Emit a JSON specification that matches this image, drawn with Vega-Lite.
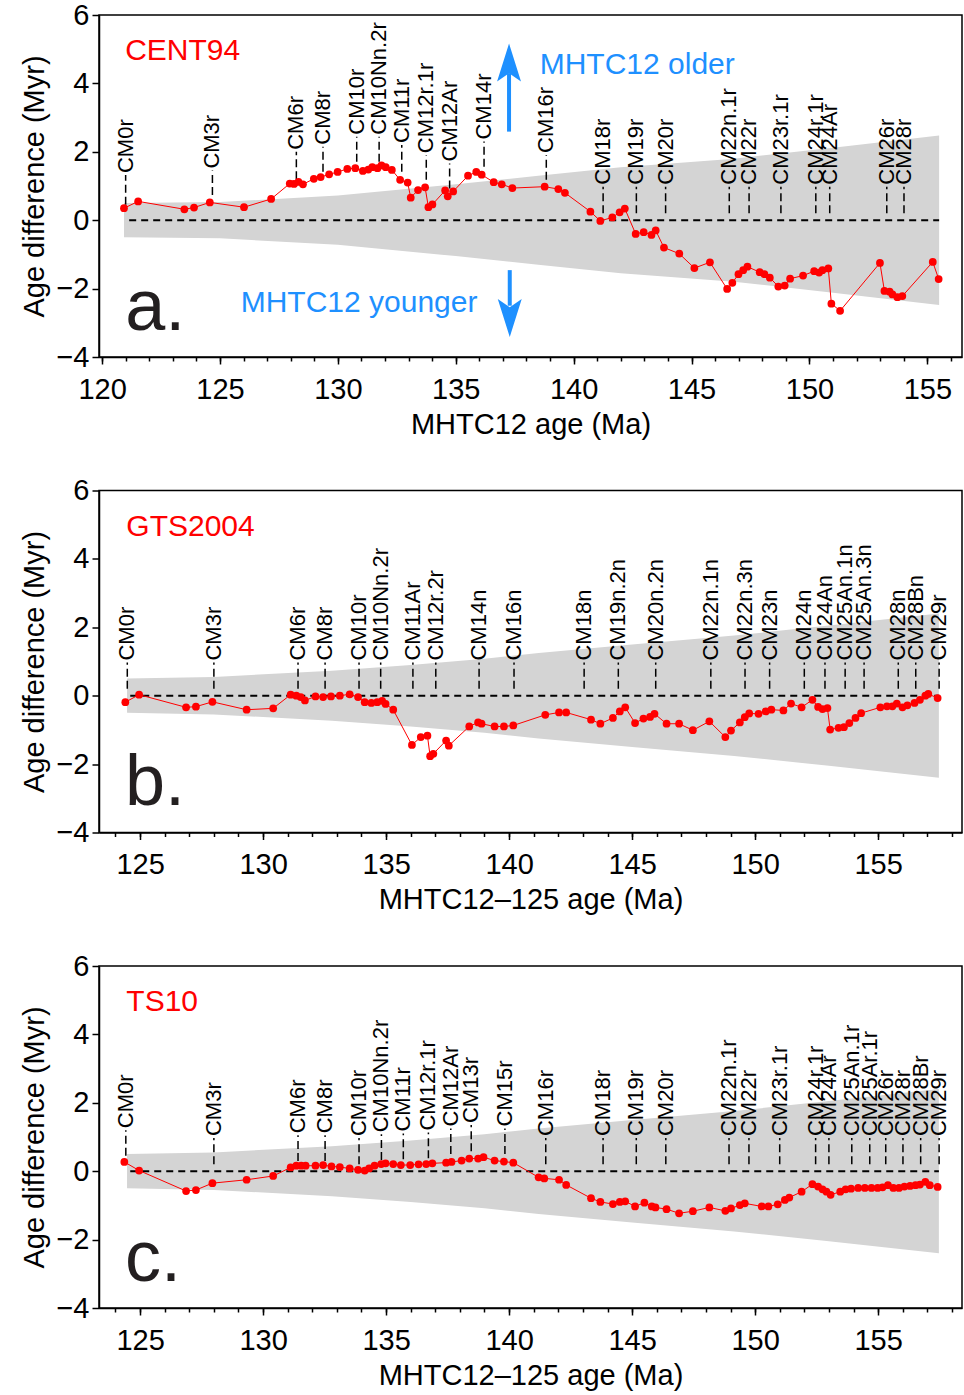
{
  "$schema": "https://vega.github.io/schema/vega-lite/v6.json",
  "padding": {"left": 20, "top": 0, "right": 0, "bottom": 0},
  "spacing": 35.5,
  "config": {
    "font": "Liberation Sans",
    "view": {"stroke": "#000", "strokeWidth": 1.5},
    "axis": {"labelFont": "Liberation Sans", "titleFont": "Liberation Sans", "labelFontSize": 29, "titleFontSize": 29, "titleFontWeight": "normal", "labelColor": "#000", "titleColor": "#000", "domainColor": "#000", "tickColor": "#000", "domainWidth": 1.5, "tickWidth": 1.5, "grid": false, "labelOverlap": false, "labelFlush": false}
  },
  "datasets": {
    "bandA": [{"t":120.93,"hi":0.5,"lo":-0.5},{"t":125,"hi":0.53,"lo":-0.53},{"t":130,"hi":0.72,"lo":-0.72},{"t":135,"hi":1.05,"lo":-1.05},{"t":138.5,"hi":1.3,"lo":-1.3},{"t":142,"hi":1.55,"lo":-1.55},{"t":146.8,"hi":1.8,"lo":-1.8},{"t":151,"hi":2.12,"lo":-2.12},{"t":155.5,"hi":2.48,"lo":-2.48}],
    "bandB": [{"t":124.47,"hi":0.5,"lo":-0.5},{"t":128,"hi":0.55,"lo":-0.55},{"t":132.8,"hi":0.73,"lo":-0.73},{"t":136,"hi":0.9,"lo":-0.9},{"t":139,"hi":1.08,"lo":-1.08},{"t":141.2,"hi":1.25,"lo":-1.25},{"t":145,"hi":1.5,"lo":-1.5},{"t":149.15,"hi":1.76,"lo":-1.76},{"t":153,"hi":2.05,"lo":-2.05},{"t":157.47,"hi":2.4,"lo":-2.4}],
    "a": [{"t":120.93,"v":0.35},{"t":121.53,"v":0.55},{"t":123.49,"v":0.32},{"t":123.9,"v":0.37},{"t":124.57,"v":0.52},{"t":126.02,"v":0.38},{"t":127.17,"v":0.62},{"t":127.96,"v":1.07},{"t":128.14,"v":1.06},{"t":128.33,"v":1.12},{"t":128.52,"v":1.05},{"t":128.98,"v":1.21},{"t":129.27,"v":1.26},{"t":129.63,"v":1.34},{"t":129.99,"v":1.41},{"t":130.4,"v":1.5},{"t":130.74,"v":1.52},{"t":131.06,"v":1.44},{"t":131.29,"v":1.48},{"t":131.46,"v":1.55},{"t":131.68,"v":1.52},{"t":131.85,"v":1.6},{"t":132.03,"v":1.55},{"t":132.29,"v":1.47},{"t":132.64,"v":1.18},{"t":132.96,"v":1.1},{"t":133.09,"v":0.66},{"t":133.4,"v":0.88},{"t":133.7,"v":0.96},{"t":133.84,"v":0.38},{"t":134.01,"v":0.46},{"t":134.55,"v":0.87},{"t":134.66,"v":0.7},{"t":134.89,"v":0.84},{"t":135.52,"v":1.3},{"t":135.87,"v":1.41},{"t":136.1,"v":1.33},{"t":136.61,"v":1.11},{"t":136.95,"v":1.05},{"t":137.4,"v":0.94},{"t":138.77,"v":0.98},{"t":139.35,"v":0.91},{"t":139.63,"v":0.8},{"t":140.71,"v":0.25},{"t":141.13,"v":-0.02},{"t":141.64,"v":0.08},{"t":141.95,"v":0.23},{"t":142.17,"v":0.34},{"t":142.63,"v":-0.4},{"t":142.97,"v":-0.35},{"t":143.3,"v":-0.43},{"t":143.48,"v":-0.3},{"t":143.83,"v":-0.8},{"t":144.48,"v":-0.98},{"t":145.12,"v":-1.4},{"t":145.78,"v":-1.23},{"t":146.51,"v":-2.01},{"t":146.73,"v":-1.83},{"t":146.99,"v":-1.58},{"t":147.19,"v":-1.46},{"t":147.37,"v":-1.36},{"t":147.89,"v":-1.52},{"t":148.09,"v":-1.58},{"t":148.32,"v":-1.68},{"t":148.68,"v":-1.94},{"t":148.95,"v":-1.91},{"t":149.18,"v":-1.71},{"t":149.73,"v":-1.62},{"t":150.2,"v":-1.49},{"t":150.41,"v":-1.53},{"t":150.55,"v":-1.46},{"t":150.8,"v":-1.41},{"t":150.93,"v":-2.44},{"t":151.3,"v":-2.65},{"t":152.99,"v":-1.25},{"t":153.18,"v":-2.07},{"t":153.4,"v":-2.09},{"t":153.52,"v":-2.17},{"t":153.73,"v":-2.25},{"t":153.94,"v":-2.22},{"t":155.23,"v":-1.22},{"t":155.48,"v":-1.72}],
    "b": [{"t":124.4,"v":-0.19},{"t":124.96,"v":0.03},{"t":126.87,"v":-0.34},{"t":127.27,"v":-0.32},{"t":127.94,"v":-0.18},{"t":129.33,"v":-0.41},{"t":130.41,"v":-0.37},{"t":131.12,"v":0.03},{"t":131.35,"v":0.0},{"t":131.53,"v":-0.04},{"t":131.7,"v":-0.14},{"t":132.13,"v":-0.02},{"t":132.44,"v":-0.04},{"t":132.76,"v":-0.02},{"t":133.12,"v":0.0},{"t":133.52,"v":0.04},{"t":133.86,"v":-0.04},{"t":134.13,"v":-0.19},{"t":134.4,"v":-0.21},{"t":134.64,"v":-0.19},{"t":134.84,"v":-0.15},{"t":134.98,"v":-0.24},{"t":135.29,"v":-0.41},{"t":136.05,"v":-1.44},{"t":136.41,"v":-1.21},{"t":136.68,"v":-1.17},{"t":136.79,"v":-1.77},{"t":136.92,"v":-1.7},{"t":137.44,"v":-1.31},{"t":137.55,"v":-1.46},{"t":138.38,"v":-0.9},{"t":138.74,"v":-0.78},{"t":138.88,"v":-0.82},{"t":139.41,"v":-0.9},{"t":139.79,"v":-0.9},{"t":140.17,"v":-0.87},{"t":141.47,"v":-0.56},{"t":142.03,"v":-0.49},{"t":142.32,"v":-0.49},{"t":143.33,"v":-0.7},{"t":143.71,"v":-0.82},{"t":144.22,"v":-0.65},{"t":144.5,"v":-0.46},{"t":144.72,"v":-0.34},{"t":145.12,"v":-0.8},{"t":145.46,"v":-0.67},{"t":145.73,"v":-0.62},{"t":145.91,"v":-0.53},{"t":146.4,"v":-0.82},{"t":146.91,"v":-0.82},{"t":147.47,"v":-1.01},{"t":148.14,"v":-0.75},{"t":148.79,"v":-1.21},{"t":149.02,"v":-1.02},{"t":149.38,"v":-0.78},{"t":149.58,"v":-0.63},{"t":149.76,"v":-0.52},{"t":150.14,"v":-0.53},{"t":150.43,"v":-0.46},{"t":150.66,"v":-0.41},{"t":151.15,"v":-0.43},{"t":151.46,"v":-0.23},{"t":151.89,"v":-0.34},{"t":152.33,"v":-0.12},{"t":152.56,"v":-0.33},{"t":152.74,"v":-0.39},{"t":152.94,"v":-0.36},{"t":153.05,"v":-0.99},{"t":153.39,"v":-0.94},{"t":153.61,"v":-0.92},{"t":153.83,"v":-0.8},{"t":154.08,"v":-0.65},{"t":154.31,"v":-0.51},{"t":155.09,"v":-0.34},{"t":155.36,"v":-0.31},{"t":155.58,"v":-0.31},{"t":155.76,"v":-0.23},{"t":155.99,"v":-0.34},{"t":156.19,"v":-0.28},{"t":156.48,"v":-0.21},{"t":156.7,"v":-0.12},{"t":156.92,"v":0.0},{"t":157.04,"v":0.05},{"t":157.42,"v":-0.07}],
    "c": [{"t":124.36,"v":0.27},{"t":124.96,"v":0.02},{"t":126.87,"v":-0.58},{"t":127.27,"v":-0.55},{"t":127.94,"v":-0.35},{"t":129.33,"v":-0.25},{"t":130.41,"v":-0.14},{"t":131.12,"v":0.11},{"t":131.35,"v":0.16},{"t":131.55,"v":0.16},{"t":131.73,"v":0.16},{"t":132.13,"v":0.16},{"t":132.44,"v":0.18},{"t":132.78,"v":0.14},{"t":133.12,"v":0.12},{"t":133.52,"v":0.08},{"t":133.86,"v":0.04},{"t":134.13,"v":0.02},{"t":134.31,"v":0.08},{"t":134.53,"v":0.16},{"t":134.8,"v":0.21},{"t":134.98,"v":0.23},{"t":135.29,"v":0.21},{"t":135.6,"v":0.18},{"t":135.98,"v":0.18},{"t":136.32,"v":0.2},{"t":136.63,"v":0.21},{"t":136.88,"v":0.23},{"t":137.44,"v":0.25},{"t":137.66,"v":0.27},{"t":138.07,"v":0.31},{"t":138.38,"v":0.37},{"t":138.74,"v":0.37},{"t":138.96,"v":0.41},{"t":139.41,"v":0.31},{"t":139.79,"v":0.28},{"t":140.17,"v":0.25},{"t":141.2,"v":-0.18},{"t":141.43,"v":-0.21},{"t":142.03,"v":-0.25},{"t":142.32,"v":-0.4},{"t":143.33,"v":-0.79},{"t":143.71,"v":-0.9},{"t":144.22,"v":-0.96},{"t":144.5,"v":-0.9},{"t":144.72,"v":-0.88},{"t":145.12,"v":-1.03},{"t":145.5,"v":-0.92},{"t":145.8,"v":-1.03},{"t":145.95,"v":-1.06},{"t":146.4,"v":-1.11},{"t":146.91,"v":-1.23},{"t":147.47,"v":-1.17},{"t":148.14,"v":-1.06},{"t":148.79,"v":-1.16},{"t":149.02,"v":-1.09},{"t":149.38,"v":-0.99},{"t":149.58,"v":-0.94},{"t":150.27,"v":-1.03},{"t":150.54,"v":-1.03},{"t":150.92,"v":-0.97},{"t":151.21,"v":-0.84},{"t":151.39,"v":-0.77},{"t":151.89,"v":-0.6},{"t":152.33,"v":-0.38},{"t":152.56,"v":-0.45},{"t":152.74,"v":-0.53},{"t":152.9,"v":-0.6},{"t":153.07,"v":-0.69},{"t":153.46,"v":-0.6},{"t":153.68,"v":-0.53},{"t":153.9,"v":-0.51},{"t":154.19,"v":-0.49},{"t":154.46,"v":-0.49},{"t":154.73,"v":-0.49},{"t":154.98,"v":-0.49},{"t":155.18,"v":-0.47},{"t":155.4,"v":-0.41},{"t":155.62,"v":-0.49},{"t":155.85,"v":-0.49},{"t":156.07,"v":-0.45},{"t":156.3,"v":-0.43},{"t":156.52,"v":-0.41},{"t":156.7,"v":-0.39},{"t":156.92,"v":-0.31},{"t":157.1,"v":-0.41},{"t":157.42,"v":-0.46}],
    "labA": [{"name":"CM0r","t":121.0,"lo":0.45,"hi":1.32},{"name":"CM3r","t":124.68,"lo":0.74,"hi":1.45},{"name":"CM6r","t":128.24,"lo":1.2,"hi":2.0},{"name":"CM8r","t":129.37,"lo":1.42,"hi":2.15},{"name":"CM10r","t":130.8,"lo":1.71,"hi":2.44},{"name":"CM10Nn.2r","t":131.75,"lo":1.71,"hi":2.44},{"name":"CM11r","t":132.71,"lo":1.42,"hi":2.2},{"name":"CM12r.1r","t":133.75,"lo":1.18,"hi":1.9},{"name":"CM12Ar","t":134.74,"lo":0.93,"hi":1.66},{"name":"CM14r","t":136.2,"lo":1.56,"hi":2.3},{"name":"CM16r","t":138.84,"lo":1.18,"hi":1.91},{"name":"CM18r","t":141.25,"lo":0.2,"hi":0.98},{"name":"CM19r","t":142.66,"lo":0.2,"hi":0.98},{"name":"CM20r","t":143.9,"lo":0.2,"hi":0.98},{"name":"CM22n.1r","t":146.6,"lo":0.2,"hi":0.98},{"name":"CM22r","t":147.44,"lo":0.2,"hi":0.98},{"name":"CM23r.1r","t":148.79,"lo":0.2,"hi":0.98},{"name":"CM24r.1r","t":150.27,"lo":0.2,"hi":0.98},{"name":"CM24Ar","t":150.86,"lo":0.2,"hi":0.98},{"name":"CM26r","t":153.28,"lo":0.2,"hi":0.98},{"name":"CM28r","t":154.01,"lo":0.2,"hi":0.98}],
    "labB": [{"name":"CM0r","t":124.48,"lo":0.2,"hi":0.97},{"name":"CM3r","t":128.0,"lo":0.2,"hi":0.97},{"name":"CM6r","t":131.42,"lo":0.2,"hi":0.97},{"name":"CM8r","t":132.52,"lo":0.2,"hi":0.97},{"name":"CM10r","t":133.9,"lo":0.2,"hi":0.97},{"name":"CM10Nn.2r","t":134.78,"lo":0.2,"hi":0.97},{"name":"CM11Ar","t":136.09,"lo":0.2,"hi":0.97},{"name":"CM12r.2r","t":137.02,"lo":0.2,"hi":0.97},{"name":"CM14n","t":138.78,"lo":0.2,"hi":0.97},{"name":"CM16n","t":140.2,"lo":0.2,"hi":0.97},{"name":"CM18n","t":143.05,"lo":0.2,"hi":0.97},{"name":"CM19n.2n","t":144.44,"lo":0.2,"hi":0.97},{"name":"CM20n.2n","t":145.96,"lo":0.2,"hi":0.97},{"name":"CM22n.1n","t":148.2,"lo":0.2,"hi":0.97},{"name":"CM22n.3n","t":149.59,"lo":0.2,"hi":0.97},{"name":"CM23n","t":150.59,"lo":0.2,"hi":0.97},{"name":"CM24n","t":152.0,"lo":0.2,"hi":0.97},{"name":"CM24An","t":152.84,"lo":0.2,"hi":0.97},{"name":"CM25An.1n","t":153.66,"lo":0.2,"hi":0.97},{"name":"CM25An.3n","t":154.43,"lo":0.2,"hi":0.97},{"name":"CM28n","t":155.82,"lo":0.2,"hi":0.97},{"name":"CM28Bn","t":156.53,"lo":0.2,"hi":0.97},{"name":"CM29r","t":157.48,"lo":0.2,"hi":0.97}],
    "labC": [{"name":"CM0r","t":124.42,"lo":0.45,"hi":1.2},{"name":"CM3r","t":128.0,"lo":0.2,"hi":0.97},{"name":"CM6r","t":131.42,"lo":0.3,"hi":1.05},{"name":"CM8r","t":132.52,"lo":0.3,"hi":1.05},{"name":"CM10r","t":133.9,"lo":0.2,"hi":0.97},{"name":"CM10Nn.2r","t":134.81,"lo":0.33,"hi":1.08},{"name":"CM11r","t":135.7,"lo":0.35,"hi":1.1},{"name":"CM12r.1r","t":136.72,"lo":0.38,"hi":1.13},{"name":"CM12Ar","t":137.63,"lo":0.5,"hi":1.25},{"name":"CM13r","t":138.46,"lo":0.58,"hi":1.35},{"name":"CM15r","t":139.83,"lo":0.5,"hi":1.25},{"name":"CM16r","t":141.49,"lo":0.2,"hi":0.97},{"name":"CM18r","t":143.82,"lo":0.2,"hi":0.97},{"name":"CM19r","t":145.17,"lo":0.2,"hi":0.97},{"name":"CM20r","t":146.37,"lo":0.2,"hi":0.97},{"name":"CM22n.1r","t":148.94,"lo":0.2,"hi":0.97},{"name":"CM22r","t":149.75,"lo":0.2,"hi":0.97},{"name":"CM23r.1r","t":151.0,"lo":0.2,"hi":0.97},{"name":"CM24r.1r","t":152.46,"lo":0.2,"hi":0.97},{"name":"CM24Ar","t":153.0,"lo":0.2,"hi":0.97},{"name":"CM25An.1r","t":153.93,"lo":0.2,"hi":0.97},{"name":"CM25Ar.1r","t":154.66,"lo":0.2,"hi":0.97},{"name":"CM26r","t":155.31,"lo":0.2,"hi":0.97},{"name":"CM28r","t":156.01,"lo":0.2,"hi":0.97},{"name":"CM28Br","t":156.73,"lo":0.2,"hi":0.97},{"name":"CM29r","t":157.48,"lo":0.2,"hi":0.97}]
  },
  "vconcat": [
    {
      "width": 863, "height": 342,
      "resolve": {"axis": {"x": "independent"}},
      "layer": [
        {"data": {"name": "bandA"}, "mark": {"type": "area", "color": "#d4d4d4"},
         "encoding": {
           "x": {"field": "t", "type": "quantitative", "scale": {"domain": [119.87, 156.47], "nice": false, "zero": false},
                 "axis": {"title": "MHTC12 age (Ma)", "orient": "bottom", "values": [120,125,130,135,140,145,150,155], "labelOverlap": false, "tickSize": 7, "labelPadding": 11, "titlePadding": 6}},
           "y": {"field": "hi", "type": "quantitative", "scale": {"domain": [-4, 6], "nice": false},
                 "axis": {"title": "Age difference (Myr)", "values": [-4,-3,-2,-1,0,1,2,3,4,5,6], "labelExpr": "datum.value % 2 === 0 ? datum.label : ''", "labelOverlap": false, "tickSize": {"condition": {"test": "datum.value % 2 === 0", "value": 7}, "value": 4}, "labelPadding": 3, "titlePadding": 6}},
           "y2": {"field": "lo"}
         }},
        {"data": {"values": [{"t1": 121.15, "t2": 155.5, "z": 0}]}, "mark": {"type": "rule", "strokeDash": [7, 5], "strokeWidth": 2, "color": "#000"},
         "encoding": {"x": {"field": "t1", "type": "quantitative", "axis": {"orient": "bottom", "values": [120,121,122,123,124,125,126,127,128,129,130,131,132,133,134,135,136,137,138,139,140,141,142,143,144,145,146,147,148,149,150,151,152,153,154,155,156], "labels": false, "title": null, "domain": false, "tickSize": 4}}, "x2": {"field": "t2"}, "y": {"field": "z", "type": "quantitative"}}},
        {"data": {"name": "labA"}, "mark": {"type": "rule", "strokeDash": [8, 4], "strokeWidth": 1.5, "color": "#000"},
         "encoding": {"x": {"field": "t", "type": "quantitative", "axis": null}, "y": {"field": "lo", "type": "quantitative"}, "y2": {"field": "hi"}}},
        {"data": {"name": "labA"}, "mark": {"type": "text", "angle": 270, "align": "left", "baseline": "middle", "fontSize": 22, "font": "Liberation Sans", "color": "#000", "dx": 2},
         "encoding": {"x": {"field": "t", "type": "quantitative", "axis": null}, "y": {"field": "hi", "type": "quantitative"}, "text": {"field": "name"}}},
        {"data": {"name": "a"}, "mark": {"type": "line", "color": "#ff0000", "strokeWidth": 1, "point": {"filled": true, "size": 60, "color": "#ff0000", "opacity": 1}},
         "encoding": {"x": {"field": "t", "type": "quantitative", "axis": null}, "y": {"field": "v", "type": "quantitative"}}},
        {"data": {"values": [{"t": 120.98, "v": 4.68, "txt": "CENT94"}]}, "mark": {"type": "text", "align": "left", "baseline": "alphabetic", "fontSize": 30, "color": "#ff0000"},
         "encoding": {"x": {"field": "t", "type": "quantitative", "axis": null}, "y": {"field": "v", "type": "quantitative"}, "text": {"field": "txt"}}},
        {"data": {"values": [{"t": 138.56, "v": 4.27, "txt": "MHTC12 older"}, {"t": 125.88, "v": -2.68, "txt": "MHTC12 younger"}]}, "mark": {"type": "text", "align": "left", "baseline": "alphabetic", "fontSize": 30, "color": "#1e90ff"},
         "encoding": {"x": {"field": "t", "type": "quantitative", "axis": null}, "y": {"field": "v", "type": "quantitative"}, "text": {"field": "txt"}}},
        {"data": {"values": [{"t": 137.26, "v1": 2.59, "v2": 4.3}, {"t": 137.29, "v1": -1.46, "v2": -2.5}]}, "mark": {"type": "rule", "strokeWidth": 4, "color": "#1e90ff"},
         "encoding": {"x": {"field": "t", "type": "quantitative", "axis": null}, "y": {"field": "v1", "type": "quantitative"}, "y2": {"field": "v2"}}},
        {"data": {"values": [{"t": 137.26, "v": 4.61}]}, "mark": {"type": "point", "filled": true, "opacity": 1, "color": "#1e90ff", "size": 1444, "shape": "M0,-1L0.63,1L0,0.57L-0.63,1Z"},
         "encoding": {"x": {"field": "t", "type": "quantitative", "axis": null}, "y": {"field": "v", "type": "quantitative"}}},
        {"data": {"values": [{"t": 137.29, "v": -2.86}]}, "mark": {"type": "point", "filled": true, "opacity": 1, "color": "#1e90ff", "size": 1444, "shape": "M0,1L0.63,-1L0,-0.57L-0.63,-1Z"},
         "encoding": {"x": {"field": "t", "type": "quantitative", "axis": null}, "y": {"field": "v", "type": "quantitative"}}},
        {"data": {"values": [{"t": 120.98, "v": -3.21, "txt": "a."}]}, "mark": {"type": "text", "align": "left", "baseline": "alphabetic", "fontSize": 72, "color": "#231f20"},
         "encoding": {"x": {"field": "t", "type": "quantitative", "axis": null}, "y": {"field": "v", "type": "quantitative"}, "text": {"field": "txt"}}}
      ]
    },
    {
      "width": 863, "height": 342,
      "resolve": {"axis": {"x": "independent"}},
      "layer": [
        {"data": {"name": "bandB"}, "mark": {"type": "area", "color": "#d4d4d4"},
         "encoding": {
           "x": {"field": "t", "type": "quantitative", "scale": {"domain": [123.33, 158.41], "nice": false, "zero": false},
                 "axis": {"title": "MHTC12–125 age (Ma)", "orient": "bottom", "values": [125,130,135,140,145,150,155], "labelOverlap": false, "tickSize": 7, "labelPadding": 11, "titlePadding": 6}},
           "y": {"field": "hi", "type": "quantitative", "scale": {"domain": [-4, 6], "nice": false},
                 "axis": {"title": "Age difference (Myr)", "values": [-4,-3,-2,-1,0,1,2,3,4,5,6], "labelExpr": "datum.value % 2 === 0 ? datum.label : ''", "labelOverlap": false, "tickSize": {"condition": {"test": "datum.value % 2 === 0", "value": 7}, "value": 4}, "labelPadding": 3, "titlePadding": 6}},
           "y2": {"field": "lo"}
         }},
        {"data": {"values": [{"t1": 124.6, "t2": 157.47, "z": 0}]}, "mark": {"type": "rule", "strokeDash": [7, 5], "strokeWidth": 2, "color": "#000"},
         "encoding": {"x": {"field": "t1", "type": "quantitative", "axis": {"orient": "bottom", "values": [124,125,126,127,128,129,130,131,132,133,134,135,136,137,138,139,140,141,142,143,144,145,146,147,148,149,150,151,152,153,154,155,156,157,158], "labels": false, "title": null, "domain": false, "tickSize": 4}}, "x2": {"field": "t2"}, "y": {"field": "z", "type": "quantitative"}}},
        {"data": {"name": "labB"}, "mark": {"type": "rule", "strokeDash": [8, 4], "strokeWidth": 1.5, "color": "#000"},
         "encoding": {"x": {"field": "t", "type": "quantitative", "axis": null}, "y": {"field": "lo", "type": "quantitative"}, "y2": {"field": "hi"}}},
        {"data": {"name": "labB"}, "mark": {"type": "text", "angle": 270, "align": "left", "baseline": "middle", "fontSize": 22, "font": "Liberation Sans", "color": "#000", "dx": 2},
         "encoding": {"x": {"field": "t", "type": "quantitative", "axis": null}, "y": {"field": "hi", "type": "quantitative"}, "text": {"field": "name"}}},
        {"data": {"name": "b"}, "mark": {"type": "line", "color": "#ff0000", "strokeWidth": 1, "point": {"filled": true, "size": 60, "color": "#ff0000", "opacity": 1}},
         "encoding": {"x": {"field": "t", "type": "quantitative", "axis": null}, "y": {"field": "v", "type": "quantitative"}}},
        {"data": {"values": [{"t": 124.44, "v": 4.68, "txt": "GTS2004"}]}, "mark": {"type": "text", "align": "left", "baseline": "alphabetic", "fontSize": 30, "color": "#ff0000"},
         "encoding": {"x": {"field": "t", "type": "quantitative", "axis": null}, "y": {"field": "v", "type": "quantitative"}, "text": {"field": "txt"}}},
        {"data": {"values": [{"t": 124.39, "v": -3.21, "txt": "b."}]}, "mark": {"type": "text", "align": "left", "baseline": "alphabetic", "fontSize": 72, "color": "#231f20"},
         "encoding": {"x": {"field": "t", "type": "quantitative", "axis": null}, "y": {"field": "v", "type": "quantitative"}, "text": {"field": "txt"}}}
      ]
    },
    {
      "width": 863, "height": 342,
      "resolve": {"axis": {"x": "independent"}},
      "layer": [
        {"data": {"name": "bandB"}, "mark": {"type": "area", "color": "#d4d4d4"},
         "encoding": {
           "x": {"field": "t", "type": "quantitative", "scale": {"domain": [123.33, 158.41], "nice": false, "zero": false},
                 "axis": {"title": "MHTC12–125 age (Ma)", "orient": "bottom", "values": [125,130,135,140,145,150,155], "labelOverlap": false, "tickSize": 7, "labelPadding": 11, "titlePadding": 6}},
           "y": {"field": "hi", "type": "quantitative", "scale": {"domain": [-4, 6], "nice": false},
                 "axis": {"title": "Age difference (Myr)", "values": [-4,-3,-2,-1,0,1,2,3,4,5,6], "labelExpr": "datum.value % 2 === 0 ? datum.label : ''", "labelOverlap": false, "tickSize": {"condition": {"test": "datum.value % 2 === 0", "value": 7}, "value": 4}, "labelPadding": 3, "titlePadding": 6}},
           "y2": {"field": "lo"}
         }},
        {"data": {"values": [{"t1": 124.6, "t2": 157.47, "z": 0}]}, "mark": {"type": "rule", "strokeDash": [7, 5], "strokeWidth": 2, "color": "#000"},
         "encoding": {"x": {"field": "t1", "type": "quantitative", "axis": {"orient": "bottom", "values": [124,125,126,127,128,129,130,131,132,133,134,135,136,137,138,139,140,141,142,143,144,145,146,147,148,149,150,151,152,153,154,155,156,157,158], "labels": false, "title": null, "domain": false, "tickSize": 4}}, "x2": {"field": "t2"}, "y": {"field": "z", "type": "quantitative"}}},
        {"data": {"name": "labC"}, "mark": {"type": "rule", "strokeDash": [8, 4], "strokeWidth": 1.5, "color": "#000"},
         "encoding": {"x": {"field": "t", "type": "quantitative", "axis": null}, "y": {"field": "lo", "type": "quantitative"}, "y2": {"field": "hi"}}},
        {"data": {"name": "labC"}, "mark": {"type": "text", "angle": 270, "align": "left", "baseline": "middle", "fontSize": 22, "font": "Liberation Sans", "color": "#000", "dx": 2},
         "encoding": {"x": {"field": "t", "type": "quantitative", "axis": null}, "y": {"field": "hi", "type": "quantitative"}, "text": {"field": "name"}}},
        {"data": {"name": "c"}, "mark": {"type": "line", "color": "#ff0000", "strokeWidth": 1, "point": {"filled": true, "size": 60, "color": "#ff0000", "opacity": 1}},
         "encoding": {"x": {"field": "t", "type": "quantitative", "axis": null}, "y": {"field": "v", "type": "quantitative"}}},
        {"data": {"values": [{"t": 124.44, "v": 4.68, "txt": "TS10"}]}, "mark": {"type": "text", "align": "left", "baseline": "alphabetic", "fontSize": 30, "color": "#ff0000"},
         "encoding": {"x": {"field": "t", "type": "quantitative", "axis": null}, "y": {"field": "v", "type": "quantitative"}, "text": {"field": "txt"}}},
        {"data": {"values": [{"t": 124.39, "v": -3.21, "txt": "c."}]}, "mark": {"type": "text", "align": "left", "baseline": "alphabetic", "fontSize": 72, "color": "#231f20"},
         "encoding": {"x": {"field": "t", "type": "quantitative", "axis": null}, "y": {"field": "v", "type": "quantitative"}, "text": {"field": "txt"}}}
      ]
    }
  ]
}
